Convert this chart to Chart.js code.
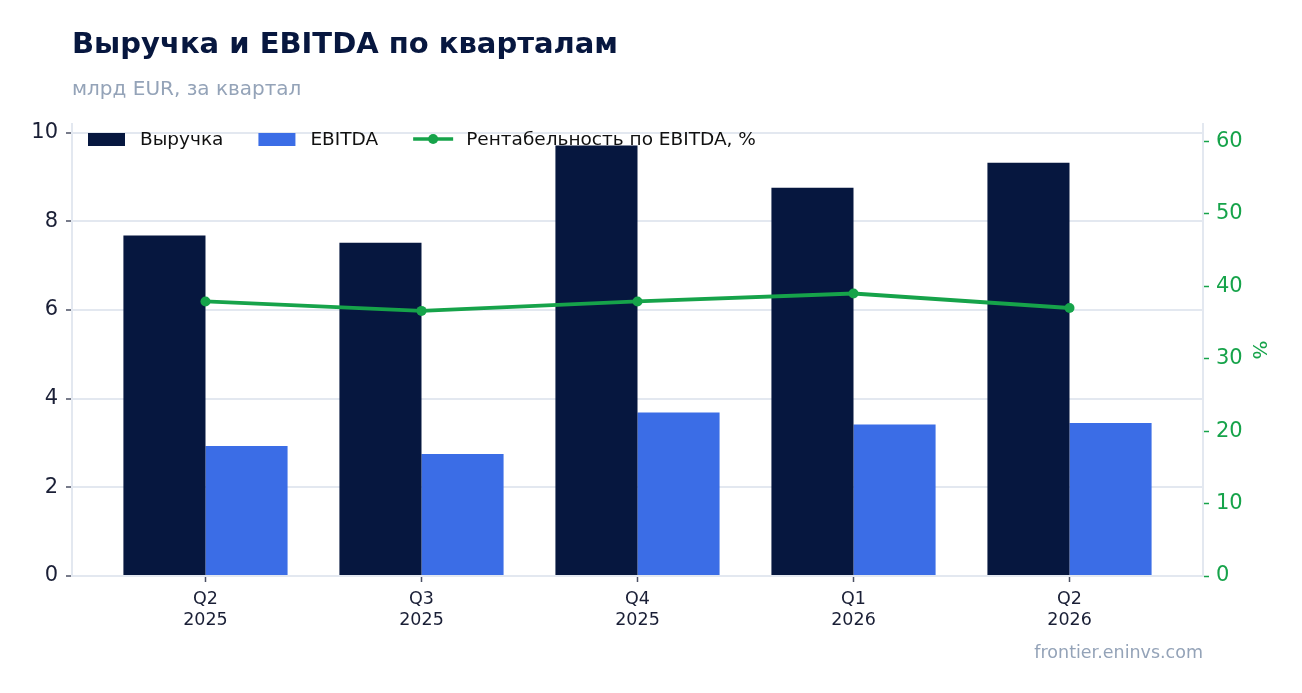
<!DOCTYPE html>
<html lang="ru">
<head>
<meta charset="utf-8">
<title>Выручка и EBITDA по кварталам</title>
<script src="https://cdn.jsdelivr.net/npm/chart.js@4.4.1/dist/chart.umd.min.js"></script>
<style>
  html, body { margin: 0; padding: 0; background: #fff; }
  body { font-family: "DejaVu Sans", sans-serif; }
  #wrap { position: relative; width: 1302px; height: 693px; }
  #chart { position: absolute; left: 0; top: 0; }
  .title { position: absolute; left: 72px; top: 26px; font-size: 29px; font-weight: bold; color: #07173f; white-space: nowrap; }
  .subtitle { position: absolute; left: 72px; top: 76px; font-size: 20px; color: #94a3b8; white-space: nowrap; }
  .source { position: absolute; right: 99px; top: 642px; font-size: 17.5px; color: #94a3b8; white-space: nowrap; }
</style>
</head>
<body>
<div id="wrap">
  <canvas id="chart" width="1302" height="693"></canvas>
  <div class="title">Выручка и EBITDA по кварталам</div>
  <div class="subtitle">млрд EUR, за квартал</div>
  <div class="source">frontier.eninvs.com</div>
</div>
<script>
// Данные по кварталам
const quarters = ['Q2', 'Q3', 'Q4', 'Q1', 'Q2'];
const years = ['2025', '2025', '2025', '2026', '2026'];
const revenue = [7.68, 7.52, 9.71, 8.76, 9.32];
const ebitda = [2.93, 2.75, 3.69, 3.42, 3.45];
const margin = [37.9, 36.6, 37.9, 39.0, 37.0];

const NAVY = '#06173f';
const BLUE = '#3b6de6';
const GREEN = '#16a34a';
const TEXT = '#1a1f36';
const GRID = '#e3e8f0';

const xy = arr => arr.map((v, i) => ({ x: i, y: v }));

// Легенда внутри области графика (как в оригинале)
const insideLegend = {
    id: 'insideLegend',
    afterDraw(chart) {
        const ctx = chart.ctx;
        const area = chart.chartArea;
        const y = area.top + 15;
        let x = area.left + 16;
        ctx.save();
        ctx.font = '18.5px "DejaVu Sans", sans-serif';
        ctx.textBaseline = 'middle';
        chart.data.datasets.forEach(ds => {
            if (ds.type === 'line') {
                ctx.strokeStyle = ds.borderColor;
                ctx.lineWidth = 3.5;
                ctx.beginPath();
                ctx.moveTo(x, y);
                ctx.lineTo(x + 40, y);
                ctx.stroke();
                ctx.fillStyle = ds.borderColor;
                ctx.beginPath();
                ctx.arc(x + 20, y, 5, 0, Math.PI * 2);
                ctx.fill();
                x += 53;
            } else {
                ctx.fillStyle = ds.backgroundColor;
                ctx.fillRect(x, y - 6, 37, 13);
                x += 52;
            }
            ctx.fillStyle = '#111';
            ctx.fillText(ds.label, x, y + 1);
            x += ctx.measureText(ds.label).width + 35;
        });
        ctx.restore();
    }
};

new Chart(document.getElementById('chart').getContext('2d'), {
    data: {
        datasets: [
            {
                type: 'bar',
                label: 'Выручка',
                data: xy(revenue),
                backgroundColor: NAVY,
                yAxisID: 'y',
                categoryPercentage: 0.76,
                barPercentage: 1.0,
                order: 2
            },
            {
                type: 'bar',
                label: 'EBITDA',
                data: xy(ebitda),
                backgroundColor: BLUE,
                yAxisID: 'y',
                categoryPercentage: 0.76,
                barPercentage: 1.0,
                order: 2
            },
            {
                type: 'line',
                label: 'Рентабельность по EBITDA, %',
                data: xy(margin),
                borderColor: GREEN,
                backgroundColor: GREEN,
                borderWidth: 3.8,
                pointRadius: 5,
                pointBackgroundColor: GREEN,
                pointBorderWidth: 0,
                tension: 0,
                yAxisID: 'y1',
                order: 1
            }
        ]
    },
    options: {
        responsive: false,
        animation: false,
        devicePixelRatio: 1,
        layout: { padding: { top: 124, left: 0, right: 28, bottom: 0 } },
        plugins: {
            legend: { display: false },
            tooltip: { enabled: false }
        },
        scales: {
            x: {
                type: 'linear',
                min: -0.618,
                max: 4.618,
                offset: false,
                afterBuildTicks: scale => { scale.ticks = quarters.map((q, i) => ({ value: i })); },
                afterFit: scale => { scale.height = 117; },
                grid: { offset: false, drawOnChartArea: false, tickLength: 6, tickColor: '#4a4f63', tickWidth: 1.5 },
                border: { color: GRID, width: 2 },
                ticks: {
                    color: TEXT,
                    padding: 7,
                    font: { family: 'DejaVu Sans', size: 17.5 },
                    callback: v => [quarters[v], years[v]]
                }
            },
            y: {
                position: 'left',
                min: 0,
                max: 10.196,
                afterFit: scale => { scale.width = 72; },
                grid: { color: GRID, lineWidth: 2, tickLength: 6, tickColor: '#4a4f63', tickWidth: 1.5 },
                border: { color: GRID, width: 2 },
                ticks: {
                    stepSize: 2,
                    includeBounds: false,
                    color: TEXT,
                    padding: 8,
                    font: { family: 'DejaVu Sans', size: 21 }
                }
            },
            y1: {
                position: 'right',
                min: 0,
                max: 62.4,
                afterFit: scale => { scale.width = 71; },
                grid: { drawOnChartArea: false, tickLength: 6, tickColor: GREEN, tickWidth: 1.5 },
                border: { color: GRID, width: 2 },
                title: {
                    display: true,
                    text: '%',
                    color: GREEN,
                    padding: { top: 4, bottom: 0 },
                    font: { family: 'DejaVu Sans', size: 20 }
                },
                ticks: {
                    stepSize: 10,
                    includeBounds: false,
                    color: GREEN,
                    padding: 7,
                    font: { family: 'DejaVu Sans', size: 21 }
                }
            }
        }
    },
    plugins: [insideLegend]
});
</script>
</body>
</html>
